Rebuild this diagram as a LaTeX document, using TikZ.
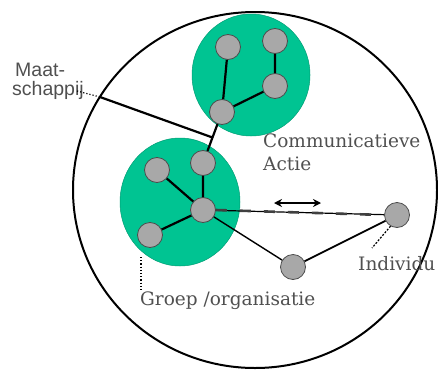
\documentclass[tikz,border=0pt]{standalone}
\usepackage{fontspec}
\newfontfamily\serifnl{DejaVu Serif}
\newfontfamily\sansnl{Liberation Sans}
\usetikzlibrary{positioning, arrows.meta, calc}
\definecolor{groen}{RGB}{0,196,146}
\definecolor{knoop}{RGB}{168,168,168}
\definecolor{tekst}{RGB}{80,80,80}

\begin{document}
\begin{tikzpicture}[x=1pt, y=-1pt,
    lid/.style={circle, draw=black!70, fill=knoop, minimum size=25pt, inner sep=0pt, line width=0.8pt},
    groep/.style={fill=groen, draw=groen!80!black, line width=0.5pt},
    band/.style={line width=2.2pt},
    dun/.style={line width=1.4pt},
    uitleg/.style={text=tekst, font=\serifnl\fontsize{18.5}{23}\selectfont, align=left, inner sep=0pt}]
    \useasboundingbox (0, 0) rectangle (438, 372);

    % maatschappij en groepen
    \draw[line width=2pt] (255, 190) ellipse [x radius=182pt, y radius=178pt];
    \draw[groep] (251, 75) ellipse [x radius=59pt, y radius=61pt];
    \draw[groep] (180, 202) ellipse [x radius=60pt, y radius=64pt];

    \node[lid] (u1) at (228, 47) {};
    \node[lid] (u2) at (275, 41) {};
    \node[lid] (u3) at (275, 86) {};
    \node[lid] (u4) at (222, 112) {};
    \node[lid] (g1) at (157, 170) {};
    \node[lid] (g2) at (203, 163) {};
    \node[lid] (g3) at (203, 210) {};
    \node[lid] (g4) at (150, 235) {};
    \node[lid] (o1) at (293, 267) {};
    \node[lid] (ind) at (397, 215) {};

    \coordinate (rand) at (100, 97);
    \coordinate (pijlL) at (274, 203);
    \coordinate (pijlR) at (321, 203);

    \draw[band]
        (u1) -- (u4)
        (u2) -- (u3)
        (u3) -- (u4)
        (u4) -- (g2)
        (g1) -- (g3)
        (g2) -- (g3)
        (g4) -- (g3)
        (rand) -- ($(u4)!0.5!(g2)$)
        ;
    \draw[dun] (g3) -- (o1);
    \draw[line width=1.8pt] (o1) -- (ind);
    \draw[line width=1.2pt] (g3) -- (ind);
    \draw[line width=2.6pt, black!75, dash pattern=on 11pt off 13pt] (g3.east) -- (ind.west);
    \draw[{Stealth[length=8pt, width=8pt]}-{Stealth[length=8pt, width=8pt]}, line width=1.8pt] (pijlL) -- (pijlR);

    % teksten
    \node[text=tekst, font=\sansnl\fontsize{19.5}{19}\selectfont, align=left, inner sep=0pt, anchor=base west]
        (maat) at (12, 95) {\hspace*{3pt}Maat-\\schappij};
    \node[uitleg, anchor=base west] (comm) at (263, 170) {Communicatieve\\Actie};
    \node[uitleg, anchor=base west] (indiv) at (358, 270) {Individu};
    \node[uitleg, anchor=base west] (grp) at (140, 305) {Groep /organisatie};

    \draw[dotted, line width=1.2pt] (77, 91) -- (rand);
    \draw[line width=1.2pt, dash pattern=on 2pt off 1.5pt] (ind.240) -- (372, 248);
    \draw[dotted, line width=1.2pt] (141, 257) -- (141, 290);
\end{tikzpicture}
\end{document}
